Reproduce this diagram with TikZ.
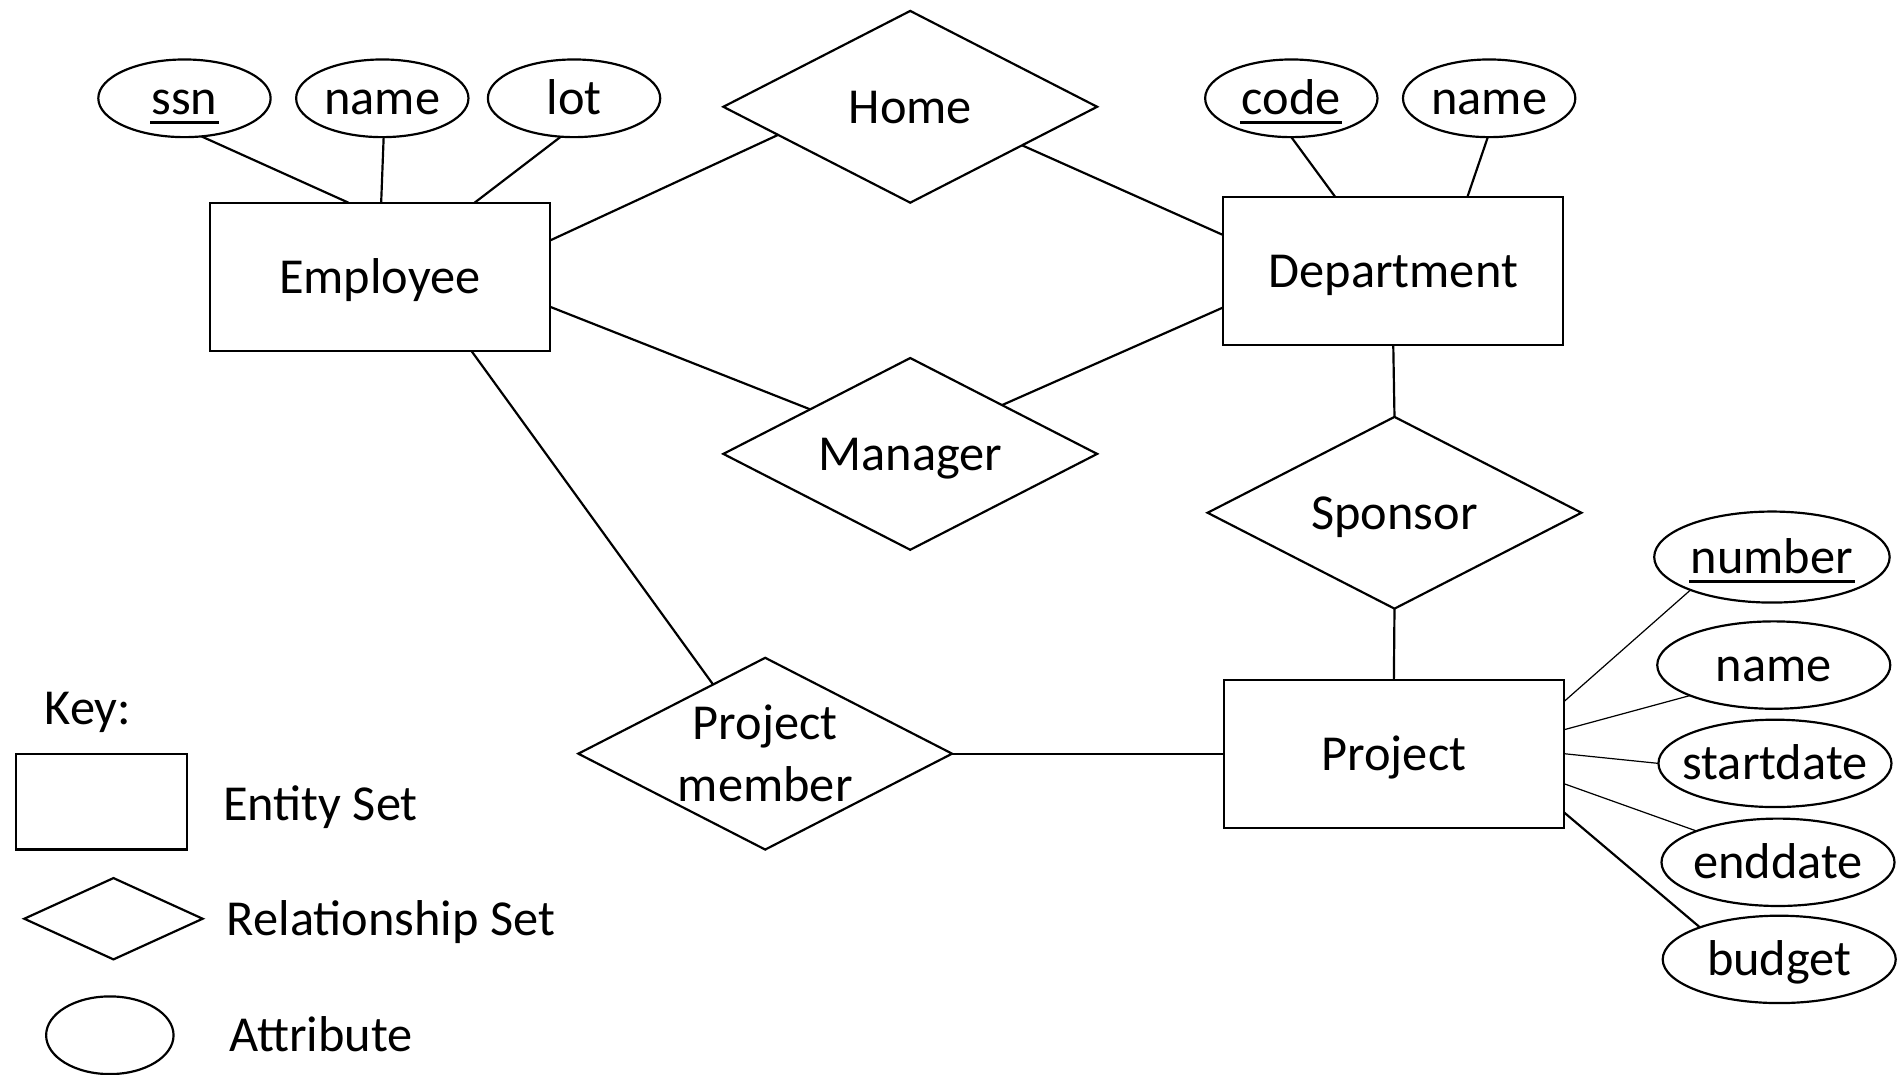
\documentclass[tikz,border=0pt]{standalone}
\usepackage{fontspec}
\setmainfont{Carlito}
\usetikzlibrary{shapes.geometric}
% text size used throughout the diagram
\newcommand\erfont{\fontsize{41.5}{51}\selectfont}
% underlined key attribute
\newcommand\keyattr[1]{\begingroup\setbox0=\hbox{#1}\rlap{\kern-0.03em\rule[-0.18em]{\dimexpr\wd0+0.06em\relax}{0.058em}}\box0\endgroup}
\begin{document}
\begin{tikzpicture}[x=1pt, y=-1pt,
  base/.style={font=\erfont, text height=27.3pt, text depth=0pt, inner sep=0pt, outer sep=0pt},
  entity/.style={base, draw, rectangle, line width=1.8pt, minimum width=280pt, minimum height=122pt},
  rel/.style={base, draw, diamond, aspect=1.95, line width=1.8pt, minimum width=308pt, minimum height=158pt},
  attr/.style={base, draw, ellipse, line width=1.8pt, inner xsep=-20pt, minimum width=142pt, minimum height=64pt},
  pattr/.style={attr, minimum width=192pt, minimum height=72pt},
  keytext/.style={base, anchor=west},
  conn/.style={line width=1.8pt},
  thinconn/.style={line width=1pt}]
\useasboundingbox (0,0) rectangle (1568,885);

% Employee and its attributes
\node[entity] (emp) at (313,228) {Employee};
\node[attr] (ssn) at (152,81) {\keyattr{ssn}};
\node[attr] (ename) at (315,81) {name};
\node[attr] (lot) at (473,81) {lot};

% Department and its attributes
\node[entity] (dept) at (1148,223.5) {Department};
\node[attr] (code) at (1064,81) {\keyattr{code}};
\node[attr] (dname) at (1227,81) {name};

% Project and its attributes
\node[entity] (proj) at (1148.5,621) {Project};
\node[pattr, minimum width=194pt, minimum height=75pt] (num) at (1460,459) {\keyattr{number}};
\node[pattr] (pname) at (1461.5,548) {name};
\node[pattr] (start) at (1462.5,629) {startdate};
\node[pattr] (end) at (1465,710.5) {enddate};
\node[pattr] (bud) at (1466,790.5) {budget};

% Relationship sets
\node[rel] (home) at (750,88) {Home};
\node[rel] (mgr) at (750,374) {Manager};
\node[rel] (spon) at (1149,422.5) {Sponsor};
\node[rel] (pm) at (630.5,621) {};
\node[font=\erfont, align=center, inner sep=0pt] (pmtext) at (pm) {Project\\member};

% Attribute links
\draw[conn] (ssn.-66) -- (emp.113);
\draw[conn] (ename.-88) -- (emp.89);
\draw[conn] (lot.-109) -- (emp.38.4);
\draw[conn] (code.-90) -- (dept.128);
\draw[conn] (dname.-92) -- (dept.45);
\draw[thinconn] (proj.17) -- (num.202);
\draw[thinconn] (proj.8.4) -- (pname.200);
\draw[thinconn] (proj.0) -- (start.180);
\draw[thinconn] (proj.-10) -- (end.159);
\draw[conn] (proj.-19.4) -- (bud.158);

% Relationship links
\draw[conn] (emp.12) -- (home.192);
\draw[conn] (home.-19) -- (dept.168);
\draw[conn] (emp.-10) -- (mgr.156);
\draw[conn] (mgr.28) -- (dept.192);
\draw[conn] (dept.south) -- (spon.north);
\draw[conn] (spon.south) -- (proj.north);
\draw[conn] (emp.-39) -- (pm.127);
\draw[conn] (pm.east) -- (proj.west);

% Key
\node[keytext] (keyhead) at (37,583) {Key:};
\node[entity, minimum width=141pt, minimum height=79pt] (keyent) at (83.5,660.5) {};
\node[keytext] (keyenttext) at (184,662) {Entity Set};
\node[rel, minimum width=147pt, minimum height=67pt] (keyrel) at (93.5,757) {};
\node[keytext] (keyreltext) at (187,757) {Relationship Set};
\node[attr, minimum width=105pt, minimum height=64pt] (keyatt) at (90.5,853) {};
\node[keytext] (keyatttext) at (189,853) {Attribute};
\end{tikzpicture}
\end{document}
